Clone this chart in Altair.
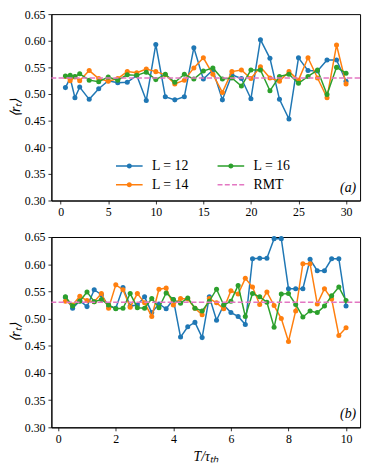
import altair as alt
import pandas as pd

# ---------------- data ----------------
series = ["L = 12", "L = 14", "L = 16"]
colors = ["#1f77b4", "#ff7f0e", "#2ca02c"]
rmt_label = "RMT"
rmt_color = "#e377c2"
rmt_value = 0.53

x_a = [0.5, 1.0, 1.5, 2.0, 3.0, 4.0, 5.0, 6.0, 7.0, 8.0, 9.0, 10.0, 11.0, 12.0, 13.0, 14.0,
       15.0, 16.0, 17.0, 18.0, 19.0, 20.0, 21.0, 22.0, 23.0, 24.0, 25.0, 26.0, 27.0, 28.0, 29.0, 30.0]
a_L12 = [0.512, 0.530, 0.493, 0.513, 0.490, 0.510, 0.525, 0.521, 0.522, 0.535, 0.488, 0.593, 0.495,
         0.489, 0.495, 0.587, 0.528, 0.545, 0.489, 0.536, 0.529, 0.491, 0.602, 0.567, 0.490, 0.453,
         0.568, 0.544, 0.543, 0.564, 0.564, 0.524]
a_L14 = [0.533, 0.525, 0.532, 0.525, 0.544, 0.529, 0.524, 0.529, 0.542, 0.540, 0.547, 0.542, 0.536,
         0.519, 0.526, 0.549, 0.568, 0.537, 0.503, 0.542, 0.545, 0.529, 0.551, 0.530, 0.524, 0.542,
         0.526, 0.568, 0.530, 0.493, 0.592, 0.519]
a_L16 = [0.534, 0.535, 0.533, 0.538, 0.526, 0.523, 0.532, 0.526, 0.536, 0.535, 0.541, 0.527, 0.537,
         0.522, 0.537, 0.528, 0.543, 0.549, 0.528, 0.530, 0.515, 0.545, 0.545, 0.506, 0.533, 0.537,
         0.520, 0.533, 0.545, 0.499, 0.550, 0.539]

x_b = [0.25, 0.5, 0.75, 1.0, 1.25, 1.5, 1.75, 2.0, 2.25, 2.5, 2.75, 3.0, 3.25, 3.5, 3.75, 4.0,
       4.25, 4.5, 4.75, 5.0, 5.25, 5.5, 5.75, 6.0, 6.25, 6.5, 6.75, 7.0, 7.25, 7.5, 7.75, 8.0,
       8.25, 8.5, 8.75, 9.0, 9.25, 9.5, 9.75, 10.0]
b_L12 = [0.539, 0.519, 0.533, 0.522, 0.553, 0.544, 0.523, 0.519, 0.557, 0.523, 0.525, 0.540, 0.511,
         0.527, 0.518, 0.535, 0.466, 0.485, 0.493, 0.465, 0.540, 0.497, 0.525, 0.511, 0.504, 0.489,
         0.610, 0.611, 0.611, 0.647, 0.647, 0.555, 0.555, 0.555, 0.609, 0.588, 0.588, 0.610, 0.610, 0.523]
b_L14 = [0.532, 0.525, 0.541, 0.533, 0.531, 0.546, 0.519, 0.562, 0.553, 0.521, 0.546, 0.529, 0.504,
         0.554, 0.556, 0.525, 0.537, 0.536, 0.519, 0.507, 0.537, 0.529, 0.518, 0.551, 0.545, 0.574,
         0.558, 0.526, 0.549, 0.524, 0.500, 0.458, 0.514, 0.601, 0.601, 0.527, 0.555, 0.536, 0.469, 0.483]
b_L16 = [0.540, 0.523, 0.532, 0.549, 0.531, 0.535, 0.525, 0.518, 0.519, 0.546, 0.520, 0.519, 0.537,
         0.520, 0.547, 0.535, 0.528, 0.538, 0.519, 0.514, 0.532, 0.554, 0.525, 0.532, 0.561, 0.504,
         0.546, 0.540, 0.530, 0.484, 0.545, 0.546, 0.526, 0.503, 0.514, 0.511, 0.523, 0.542, 0.558, 0.533]

y_ticks = [0.30, 0.35, 0.40, 0.45, 0.50, 0.55, 0.60, 0.65]
x_ticks_a = [0, 5, 10, 15, 20, 25, 30]
x_ticks_b = [0, 2, 4, 6, 8, 10]
x_dom_a = [-0.975, 31.475]
x_dom_b = [-0.2375, 10.4875]
y_dom = [0.30, 0.65]

# legend (column-major, 2 columns)
legend_order = ["L = 12", "L = 14", "L = 16", "RMT"]
legend_fill = ["#1f77b4", "#ff7f0e", "#2ca02c", "#e377c2"]
path_line_dot = ("M-2.7,-0.15H2.7V0.15H-2.7Z "
                 "M-0.52,0A0.52,0.52 0 1,1 0.52,0A0.52,0.52 0 1,1 -0.52,0Z")
path_dashed = ("M-2.7,-0.15H-1.7V0.15H-2.7Z M-1.23,-0.15H-0.23V0.15H-1.23Z "
               "M0.24,-0.15H1.24V0.15H0.24Z M1.7,-0.15H2.7V0.15H1.7Z")
legend_shapes = [path_line_dot, path_line_dot, path_line_dot, path_dashed]

SERIF = "Liberation Serif"
W = 313
H_TOP = 189
H_BOT = 193


def long_df(xs, ys_list):
    rows = []
    for name, ys in zip(series, ys_list):
        for xv, yv in zip(xs, ys):
            rows.append({"T": xv, "r": yv, "L": name})
    return pd.DataFrame(rows)


df_a = long_df(x_a, [a_L12, a_L14, a_L16])
df_b = long_df(x_b, [b_L12, b_L14, b_L16])


def panel(df, xdom, xticks, xtitle, tag, with_legend, H):
    xenc = alt.X("T:Q", scale=alt.Scale(domain=xdom, nice=False, zero=False),
                 axis=alt.Axis(values=xticks, format="d", title=xtitle, labelOverlap=False,
                               titlePadding=5))
    yaxis = alt.Axis(values=y_ticks, format=".2f", title="⟨rₜ⟩", labelOverlap=False)
    yenc = alt.Y("r:Q", scale=alt.Scale(domain=y_dom, nice=False, zero=False), axis=yaxis)
    layers = []
    for name in series:
        layers.append(
            alt.Chart(df).transform_filter(alt.datum.L == name)
            .mark_line(strokeWidth=1.5, point=alt.OverlayMarkDef(filled=True, size=26, opacity=1))
            .encode(x=xenc, y=yenc,
                    color=alt.Color("L:N", scale=alt.Scale(domain=series, range=colors), legend=None))
        )
    rule = alt.Chart(pd.DataFrame({"r": [rmt_value]})).mark_rule(
        color=rmt_color, strokeDash=[5.5, 2.4], strokeWidth=1.5
    ).encode(y=yenc)
    layers.append(rule)
    label = alt.Chart(pd.DataFrame({"t": [tag]})).mark_text(
        align="right", baseline="alphabetic", font=SERIF, fontSize=14, fontStyle="italic", color="black"
    ).encode(text="t:N", x=alt.value(W - 4), y=alt.value(H - 9))
    layers.append(label)
    if with_legend:
        leg = alt.Legend(title=None, orient="none", legendX=72, legendY=147, columns=2,
                         symbolSize=100, symbolStrokeWidth=0, labelFont=SERIF, labelFontSize=14,
                         labelColor="black", labelOffset=16, rowPadding=5, columnPadding=28, padding=0)
        legend_layer = alt.Chart(pd.DataFrame({"s": legend_order})).transform_filter("false").mark_point(
            filled=True, opacity=1, size=100
        ).encode(
            fill=alt.Fill("s:N", scale=alt.Scale(domain=legend_order, range=legend_fill), legend=leg),
            shape=alt.Shape("s:N", scale=alt.Scale(domain=legend_order, range=legend_shapes), legend=leg),
        )
        layers.append(legend_layer)
    return alt.layer(*layers).properties(width=W, height=H)


top = panel(df_a, x_dom_a, x_ticks_a, None, "(a)", True, H_TOP)
bottom = panel(df_b, x_dom_b, x_ticks_b, "T/τₜₕ", "(b)", False, H_BOT)

chart = alt.vconcat(top, bottom, spacing=37, bounds="flush").resolve_scale(
    x="independent"
).properties(padding={"left": 0, "top": -4, "right": 4, "bottom": 0}).configure_view(
    stroke="black", strokeWidth=1
).configure_axis(
    labelFont=SERIF, labelFontSize=12, labelColor="black", tickColor="black", domainColor="black",
    tickSize=3.5, tickWidth=0.8, domainWidth=1, grid=False, labelPadding=3,
    titleFont=SERIF, titleFontSize=14, titleFontWeight="normal", titleFontStyle="italic",
    titleColor="black", titlePadding=2
)

chart.save("out.html", embed_options={"renderer": "svg", "actions": False})
